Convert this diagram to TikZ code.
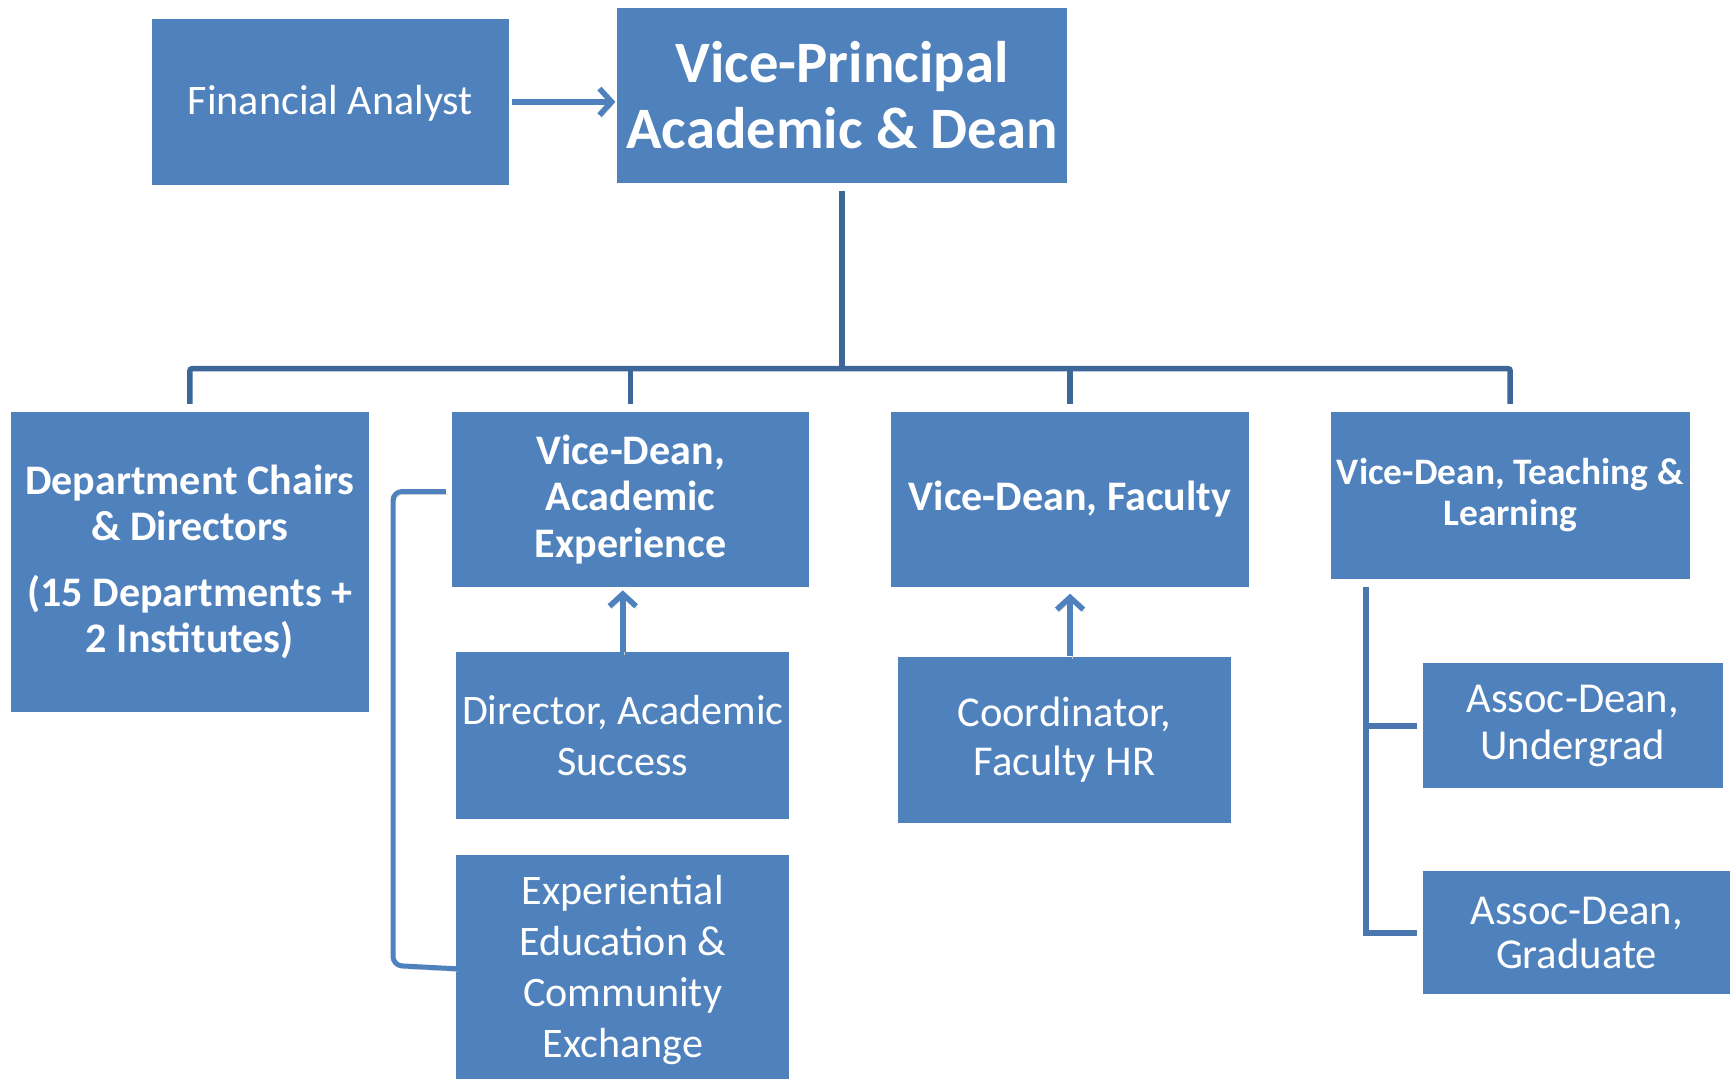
\documentclass[tikz,border=0pt]{standalone}
\usepackage{fontspec}
\setmainfont{Carlito}
\usetikzlibrary{arrows.meta}
\definecolor{boxblue}{HTML}{4F81BD}
\definecolor{treeblue}{HTML}{3E6799}
\definecolor{brblue}{HTML}{4A77B0}
\begin{document}
\begin{tikzpicture}[x=1pt,y=-1pt,
  orgbox/.style={fill=boxblue, text=white, inner sep=0pt, align=center, anchor=center},
  regtext/.style={font=\fontsize{38}{46}\selectfont},
  boldtext/.style={font=\fontsize{38}{42}\selectfont\bfseries},
  shadowed/.style={preaction={draw=black!22, transform canvas={shift={(1.5pt,-2.5pt)}}}},
  tree/.style={draw=treeblue, line width=5pt},
  rbr/.style={draw=brblue, line width=5pt},
  lbr/.style={draw=boxblue, line width=4.5pt, rounded corners=8pt, shadowed},
  arr/.style={draw=boxblue, line width=5pt, shadowed, -{Straight Barb[length=11pt,width=24pt,line width=5pt]}}
]
\useasboundingbox (0,0) rectangle (1568,973.7);
\clip (0,0) rectangle (1568,973.7);

\node[orgbox, regtext, minimum width=323pt, minimum height=150pt, text depth=3pt] (fa) at (298.5,92) {Financial Analyst};
\node[orgbox, font=\fontsize{53}{59}\selectfont\bfseries, minimum width=407pt, minimum height=158pt] (vp) at (760.5,86) {Vice-Principal\\Academic \& Dean};
\node[orgbox, boldtext, minimum width=323pt, minimum height=271pt] (dc) at (171.5,507.5) {Department Chairs\\\& Directors\\[17pt](15 Departments +\\2 Institutes)};
\node[orgbox, boldtext, minimum width=323pt, minimum height=158pt] (ae) at (569.5,451) {Vice-Dean,\\Academic\\Experience};
\node[orgbox, boldtext, minimum width=323pt, minimum height=158pt] (fac) at (966.5,451) {Vice-Dean, Faculty};
\node[orgbox, font=\fontsize{33.8}{37}\selectfont\bfseries, minimum width=324pt, minimum height=151pt] (tl) at (1364,447.5) {Vice-Dean, Teaching \&\\Learning};
\node[orgbox, regtext, minimum width=301pt, minimum height=151pt] (dir) at (562.5,664.5) {Director, Academic\\Success};
\node[orgbox, regtext, minimum width=301pt, minimum height=208pt] (exp) at (562.5,876) {Experiential\\Education \&\\Community\\Exchange};
\node[orgbox, font=\fontsize{38.4}{45}\selectfont, minimum width=301pt, minimum height=150pt] (coord) at (961.5,668) {Coordinator,\\Faculty HR};
\node[orgbox, font=\fontsize{38.5}{42}\selectfont, minimum width=271pt, minimum height=113pt] (ug) at (1420.5,655.5) {Assoc-Dean,\\Undergrad};
\node[orgbox, font=\fontsize{38.5}{40}\selectfont, minimum width=278pt, minimum height=111pt] (gr) at (1424,842.5) {Assoc-Dean,\\Graduate};

\coordinate (bus) at (761,333);
\coordinate (lbx) at (355,0);
\coordinate (rbx) at (1234,0);

% tree from the Vice-Principal
\draw[tree] ([yshift=-7pt]vp.south) -- (vp.south |- bus);
\draw[tree, rounded corners=2pt] ([yshift=7pt]dc.north) -- (dc.north |- bus) -- (tl.north |- bus) -- ([yshift=7pt]tl.north);
\draw[tree] (ae.north |- bus) -- ([yshift=7pt]ae.north);
\draw[tree] (fac.north |- bus) -- ([yshift=7pt]fac.north);

% arrows
\draw[arr] ([xshift=2pt]fa.east) -- ([xshift=-1pt]fa.east -| vp.west);
\draw[arr] (dir.north) -- ([yshift=-3pt]dir.north |- ae.south);
\draw[arr] (fac.south |- coord.north) -- ([yshift=-6pt]fac.south);

% left bracket
\draw[lbr] ([xshift=-5pt,yshift=7pt]ae.west) -- ([yshift=7pt]lbx |- ae.west) -- ([yshift=4pt]lbx |- exp.west) -- ([yshift=1pt]exp.west);

% right bracket
\draw[rbr] ([yshift=-7pt]rbx |- tl.south) -- (rbx |- gr.west) -- ([xshift=-5pt]gr.west);
\draw[rbr] (rbx |- ug.west) -- ([xshift=-5pt]ug.west);
\end{tikzpicture}
\end{document}
